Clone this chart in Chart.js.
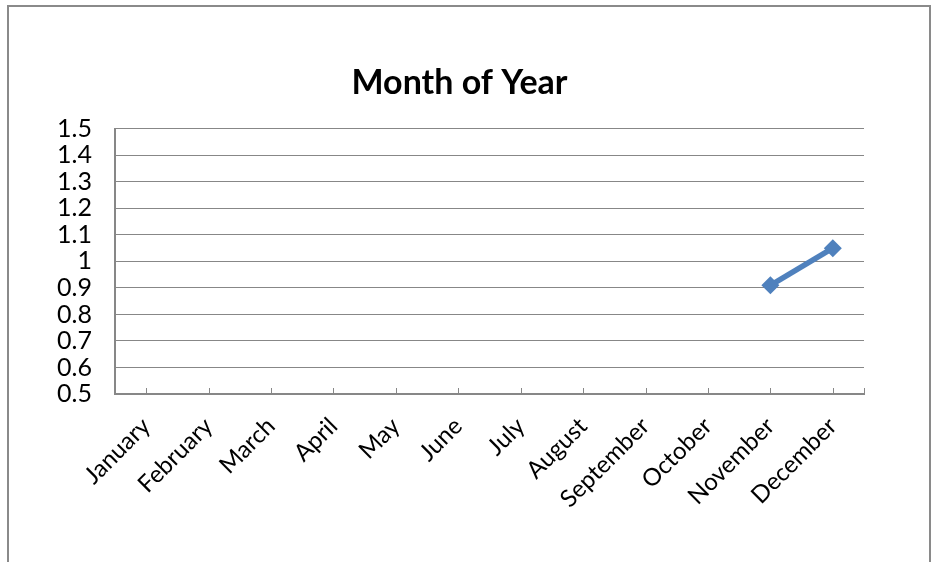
<!DOCTYPE html>
<html>
<head>
<meta charset="utf-8">
<script src="https://cdn.jsdelivr.net/npm/chart.js@4/dist/chart.umd.min.js"></script>
<style>
  html, body { margin: 0; padding: 0; background: #ffffff; }
  #wrap { position: relative; width: 934px; height: 562px; overflow: hidden; background: #fff; }
  #frame { position: absolute; left: 7px; top: 5px; width: 924px; height: 600px; border: 2px solid #8a8a8a; box-sizing: border-box; }
  canvas { position: absolute; left: 0; top: 0; }
</style>
</head>
<body>
<div id="wrap">
  <div id="frame"></div>
  <canvas id="c" width="934" height="562"></canvas>
</div>
<script>
const categories = ['January','February','March','April','May','June','July','August','September','October','November','December'];
const seriesValues = [null,null,null,null,null,null,null,null,null,null,0.91,1.05];
const yTickValues = [0.5,0.6,0.7,0.8,0.9,1,1.1,1.2,1.3,1.4,1.5];
const titleText = 'Month of Year';

const FONT = 'Lato, "Open Sans", sans-serif';
const GRID = '#878787';

const innerTicks = {
  id: 'innerTicks',
  afterDraw(chart) {
    const x = chart.scales.x, ca = chart.chartArea, ctx = chart.ctx;
    ctx.save();
    ctx.strokeStyle = GRID;
    ctx.lineWidth = 1;
    ctx.beginPath();
    const pts = categories.map((c, i) => x.getPixelForValue(i));
    pts.push(x.right);
    pts.forEach(px => {
      const p = Math.round(px) + 0.5;
      ctx.moveTo(p, ca.bottom);
      ctx.lineTo(p, ca.bottom - 6);
    });
    ctx.stroke();
    ctx.restore();
  }
};

new Chart(document.getElementById('c'), {
  type: 'line',
  data: {
    labels: categories,
    datasets: [{
      data: seriesValues,
      borderColor: '#4F81BD',
      backgroundColor: '#4F81BD',
      borderWidth: 5.5,
      pointStyle: 'rectRot',
      pointRadius: 9,
      pointHoverRadius: 9,
      pointBorderWidth: 0,
      pointBackgroundColor: '#4F81BD',
      tension: 0,
      spanGaps: false
    }]
  },
  options: {
    responsive: false,
    animation: false,
    devicePixelRatio: 1,
    layout: { padding: { left: 55, right: 70, top: 0, bottom: 0 } },
    plugins: {
      legend: { display: false },
      tooltip: { enabled: false },
      title: {
        display: true,
        text: titleText,
        color: '#000',
        font: { family: FONT, size: 34, weight: 'bold', lineHeight: 1.2 },
        padding: { top: 63, bottom: 25 }
      }
    },
    scales: {
      x: {
        type: 'category',
        offset: true,
        grid: { display: false },
        border: { display: true, color: GRID, width: 2 },
        ticks: {
          color: '#000',
          font: { family: FONT, size: 24 },
          minRotation: 45,
          maxRotation: 45,
          autoSkip: false,
          padding: 10
        },
        afterFit(s) { s.height = 168; }
      },
      y: {
        min: 0.5,
        max: 1.5,
        grid: { color: GRID, lineWidth: 1, drawTicks: false },
        border: { display: true, color: GRID, width: 2 },
        ticks: {
          stepSize: 0.1,
          autoSkip: false,
          color: '#000',
          font: { family: FONT, size: 25, lineHeight: 1 },
          padding: 23,
          callback(v) {
            const t = yTickValues.find(k => Math.abs(k - v) < 1e-6);
            return t === undefined ? '' : String(t);
          }
        },
        afterFit(s) { s.width = 60; }
      }
    }
  },
  plugins: [innerTicks]
});
</script>
</body>
</html>
